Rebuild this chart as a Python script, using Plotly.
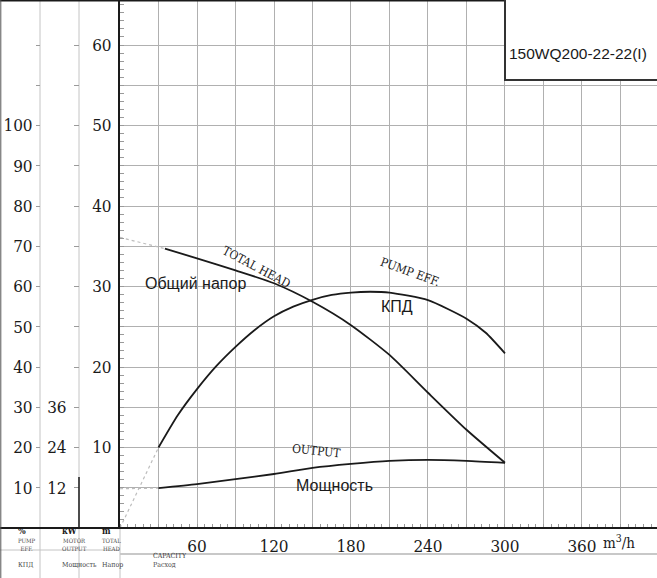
import plotly.graph_objects as go

# pump curve 150WQ200-22-22(I)
q_head = [35, 60, 90, 120, 150, 180, 210, 240, 270, 300]
head = [34.7, 33.5, 32.0, 30.4, 28.1, 25.2, 21.5, 16.8, 12.2, 8.1]
q_head_ext = [0, 35]
head_ext = [36.1, 34.7]

q_eff = [30, 45, 60, 75, 90, 105, 120, 135, 150, 165, 180, 195, 210, 240, 270, 285, 300]
eff = [20, 28, 34.5, 40.2, 45, 49.2, 52.6, 55, 56.7, 57.9, 58.5, 58.7, 58.5, 56.6, 52, 48.5, 43.4]
q_eff_ext = [0, 30]
eff_ext = [0, 20]

q_pow = [30, 60, 90, 120, 150, 180, 210, 240, 270, 300]
power = [11.9, 13.1, 14.6, 16.1, 17.9, 19.1, 20.0, 20.3, 20.0, 19.4]
q_pow_ext = [0, 30]
pow_ext = [11.7, 11.9]

q_ticks = [30, 60, 90, 120, 150, 180, 210, 240, 270, 300, 330, 360, 390]
q_labels = ["", "60", "", "120", "", "180", "", "240", "", "300", "", "360", ""]
h_ticks = [5, 10, 15, 20, 25, 30, 35, 40, 45, 50, 55, 60]
h_labels = ["", "10", "", "20", "", "30", "", "40", "", "50", "", "60"]
e_ticks = [10, 20, 30, 40, 50, 60, 70, 80, 90, 100, 110, 120]
e_labels = ["10", "20", "30", "40", "50", "60", "70", "80", "90", "100", "", ""]
p_ticks = [12, 24, 36, 48, 60, 72, 84, 96, 108, 120, 132, 144]
p_labels = ["12", "24", "36", "", "", "", "", "", "", "", "", ""]

W, H = 657, 578
SERIF = "DejaVu Serif Condensed, DejaVu Serif, Liberation Serif, serif"
SANS = "Liberation Sans, Arial, sans-serif"
GRID = "#b0b0b0"
INK = "#1a1a1a"


def px(x):
    return x / W


def py(y):
    return 1 - y / H


fig = go.Figure()

# dotted extensions towards zero flow
fig.add_trace(go.Scatter(x=q_head_ext, y=head_ext, mode="lines",
                         line=dict(color="#bdbdbd", width=1.2, dash="dot")))
fig.add_trace(go.Scatter(x=q_eff_ext, y=eff_ext, mode="lines", yaxis="y2",
                         line=dict(color="#bdbdbd", width=1.2, dash="dot")))
fig.add_trace(go.Scatter(x=q_pow_ext, y=pow_ext, mode="lines", yaxis="y3",
                         line=dict(color="#bdbdbd", width=1.2, dash="dot")))

fig.add_trace(go.Scatter(x=q_head, y=head, mode="lines",
                         line=dict(color=INK, width=1.8, shape="spline", smoothing=0.6)))
fig.add_trace(go.Scatter(x=q_eff, y=eff, mode="lines", yaxis="y2",
                         line=dict(color=INK, width=1.8, shape="spline", smoothing=0.6)))
fig.add_trace(go.Scatter(x=q_pow, y=power, mode="lines", yaxis="y3",
                         line=dict(color=INK, width=1.8, shape="spline", smoothing=0.6)))

x0 = px(120)
y_top = 528 / 8.05  # head range fitting the drawing area

fig.update_layout(
    width=W, height=H,
    margin=dict(l=0, r=0, t=0, b=0),
    paper_bgcolor="white", plot_bgcolor="white",
    showlegend=False,
    xaxis=dict(domain=[x0, 1], range=[0, (W - 120) / 1.2833],
               tickmode="array", tickvals=q_ticks, ticktext=q_labels,
               ticks="", showgrid=True, gridcolor=GRID, gridwidth=1,
               zeroline=False, showline=False, ticklabelstandoff=6,
               tickfont=dict(family=SERIF, size=17, color=INK),
               minor=dict(tickmode="linear", tick0=0, dtick=6, ticks="inside",
                          ticklen=4, tickcolor="#9a9a9a", showgrid=False)),
    yaxis=dict(domain=[1 - 528 / H, 1], range=[0, y_top],
               tickmode="array", tickvals=h_ticks, ticktext=h_labels,
               ticks="", showgrid=True, gridcolor=GRID, gridwidth=1,
               zeroline=False, showline=True, linecolor=INK, linewidth=2,
               ticklabelstandoff=3,
               tickfont=dict(family=SERIF, size=17, color=INK),
               minor=dict(tickmode="linear", tick0=0, dtick=1, ticks="inside",
                          ticklen=4, tickcolor="#9a9a9a", showgrid=False)),
    yaxis2=dict(overlaying="y", anchor="free", position=px(40), side="left",
                range=[0, y_top * 2], tickmode="array", tickvals=e_ticks,
                ticktext=e_labels, ticks="outside", ticklen=4,
                tickcolor="#9a9a9a", showgrid=False, zeroline=False,
                showline=False, ticklabelstandoff=0,
                tickfont=dict(family=SERIF, size=17, color=INK)),
    yaxis3=dict(overlaying="y", anchor="free", position=px(79), side="left",
                range=[0, y_top * 2.4], tickmode="array", tickvals=p_ticks,
                ticktext=p_labels, ticks="outside", ticklen=5,
                tickcolor="#9a9a9a", showgrid=False, zeroline=False,
                showline=False, ticklabelstandoff=4,
                tickfont=dict(family=SERIF, size=17, color=INK)),
)

shapes = [
    # light column separators on the left
    dict(type="line", xref="paper", yref="paper", x0=px(40), x1=px(40), y0=0, y1=1,
         line=dict(color="#c4c4c4", width=1), layer="below"),
    dict(type="line", xref="paper", yref="paper", x0=px(79), x1=px(79), y0=0, y1=1,
         line=dict(color="#c4c4c4", width=1), layer="below"),
    dict(type="line", xref="paper", yref="paper", x0=px(79), x1=px(79), y0=py(477), y1=py(528),
         line=dict(color=INK, width=1.5)),
    dict(type="line", xref="paper", yref="paper", x0=px(120), x1=px(120), y0=0, y1=py(528),
         line=dict(color="#c4c4c4", width=1)),
    # bottom axis line across the whole sheet
    dict(type="line", xref="paper", yref="paper", x0=0, x1=1, y0=py(528), y1=py(528),
         line=dict(color=INK, width=2)),
    dict(type="line", xref="paper", yref="paper", x0=0, x1=px(120), y0=py(550), y1=py(550),
         line=dict(color="#c4c4c4", width=1)),
    dict(type="line", xref="paper", yref="paper", x0=px(120), x1=1, y0=py(554), y1=py(554),
         line=dict(color="#c8c8c8", width=2)),
    # sheet border
    dict(type="line", xref="paper", yref="paper", x0=0, x1=1, y0=py(0.8), y1=py(0.8),
         line=dict(color=INK, width=1.5)),
    dict(type="line", xref="paper", yref="paper", x0=px(0.8), x1=px(0.8), y0=0, y1=1,
         line=dict(color="#555555", width=1)),
    # model box
    dict(type="rect", xref="paper", yref="paper", x0=px(505), x1=1.01, y0=py(80), y1=1.01,
         line=dict(color="#333333", width=2), fillcolor="white", layer="above"),
]
fig.update_layout(shapes=shapes)

ann = [
    dict(text="150WQ200-22-22(I)", x=px(507), y=py(43), xanchor="left",
         font=dict(family=SANS, size=15.5, color=INK)),
    dict(text="m<sup>3</sup>/h", x=px(637), y=py(554),
         font=dict(family=SERIF, size=15, color=INK)),
    # bottom-left legend block
    dict(text="<b>%</b>", x=px(16), y=py(538), font=dict(family=SERIF, size=9, color=INK)),
    dict(text="<b>kW</b>", x=px(60), y=py(538), font=dict(family=SERIF, size=9, color=INK)),
    dict(text="<b>m</b>", x=px(100), y=py(538), font=dict(family=SERIF, size=9, color=INK)),
    dict(text="PUMP<br>EFF.", x=px(16), y=py(554), font=dict(family=SERIF, size=6, color="#444")),
    dict(text="MOTOR<br>OUTPUT", x=px(60), y=py(554), font=dict(family=SERIF, size=6, color="#444")),
    dict(text="TOTAL<br>HEAD", x=px(100), y=py(554), font=dict(family=SERIF, size=6, color="#444")),
    dict(text="КПД", x=px(16), y=py(571), font=dict(family=SERIF, size=7, color="#444")),
    dict(text="Мощность", x=px(60), y=py(571), font=dict(family=SERIF, size=7, color="#444")),
    dict(text="Напор", x=px(100), y=py(571), font=dict(family=SERIF, size=7, color="#444")),
    dict(text="CAPACITY", x=px(151), y=py(562), font=dict(family=SERIF, size=7, color="#333")),
    dict(text="Расход", x=px(151), y=py(571), font=dict(family=SERIF, size=7, color="#444")),
]
for a in ann:
    a.update(xref="paper", yref="paper", showarrow=False)

# curve labels in data coordinates
curve_labels = [
    ("TOTAL HEAD", 106, 32.4, 28, SERIF, 12),
    ("Общий напор", 58.5, 30.4, 0, SANS, 16),
    ("PUMP EFF.", 226, 31.8, 20, SERIF, 12),
    ("КПД", 216, 27.5, 0, SANS, 16),
    ("OUTPUT", 153, 9.6, 6, SERIF, 12),
    ("Мощность", 167.5, 5.3, 0, SANS, 16),
]
for text, xq, yh, ang, fam, size in curve_labels:
    ann.append(dict(text=text, x=xq, y=yh, xref="x", yref="y", showarrow=False,
                    textangle=ang, font=dict(family=fam, size=size, color=INK)))

fig.update_layout(annotations=ann)

fig.write_html("out.html", config={"displayModeBar": False},
               post_script="document.body.style.margin='0';")
